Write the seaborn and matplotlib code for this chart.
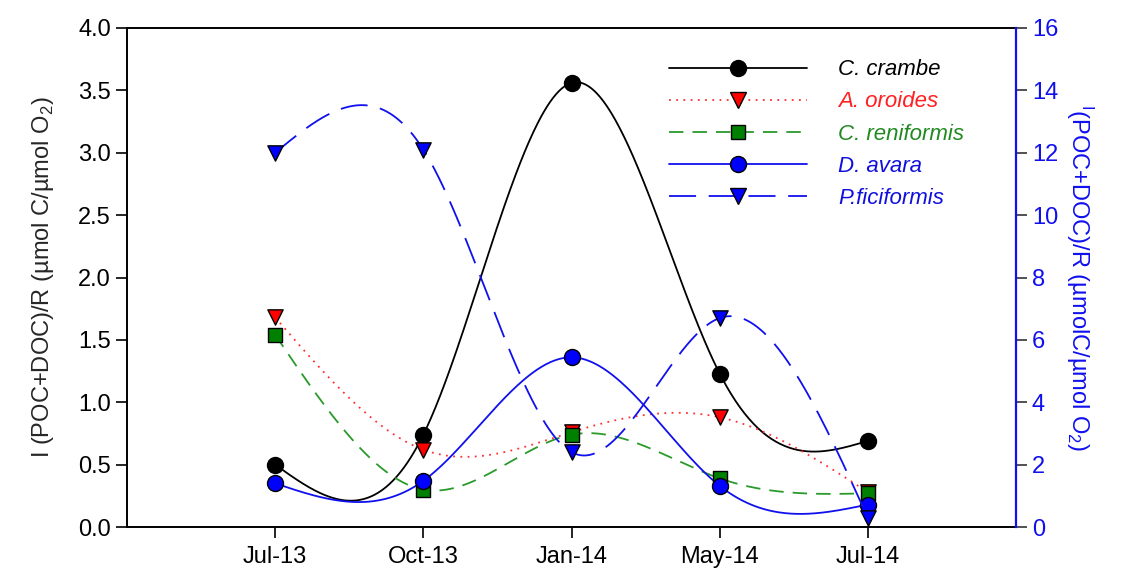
import numpy as np
import pandas as pd
import matplotlib
matplotlib.use("Agg")
import matplotlib.pyplot as plt
from matplotlib.lines import Line2D
import seaborn as sns

# ---- data ----
dates = ["Jul-13", "Oct-13", "Jan-14", "May-14", "Jul-14"]
c_crambe = [0.50, 0.74, 3.56, 1.23, 0.69]
a_oroides = [1.68, 0.62, 0.76, 0.88, 0.28]
c_reniformis = [1.54, 0.30, 0.74, 0.39, 0.27]
d_avara = [0.35, 0.37, 1.36, 0.33, 0.18]
p_ficiformis = [12.0, 12.1, 2.4, 6.7, 0.3]   # right axis

left_ticks = [0.0, 0.5, 1.0, 1.5, 2.0, 2.5, 3.0, 3.5, 4.0]
right_ticks = [0, 2, 4, 6, 8, 10, 12, 14, 16]


def natural_spline(x, y, xs):
    x = np.asarray(x, float)
    y = np.asarray(y, float)
    n = len(x)
    h = np.diff(x)
    A = np.zeros((n, n))
    b = np.zeros(n)
    A[0, 0] = 1
    A[-1, -1] = 1
    for i in range(1, n - 1):
        A[i, i - 1] = h[i - 1]
        A[i, i] = 2 * (h[i - 1] + h[i])
        A[i, i + 1] = h[i]
        b[i] = 6 * ((y[i + 1] - y[i]) / h[i] - (y[i] - y[i - 1]) / h[i - 1])
    M = np.linalg.solve(A, b)
    idx = np.clip(np.searchsorted(x, xs) - 1, 0, n - 2)
    x0, x1 = x[idx], x[idx + 1]
    hh = x1 - x0
    t0 = x1 - xs
    t1 = xs - x0
    return (M[idx] * t0 ** 3 / (6 * hh) + M[idx + 1] * t1 ** 3 / (6 * hh)
            + (y[idx] / hh - M[idx] * hh / 6) * t0
            + (y[idx + 1] / hh - M[idx + 1] * hh / 6) * t1)


sns.set_style("ticks")
plt.rcParams["font.family"] = ["Liberation Sans", "DejaVu Sans"]
plt.rcParams["mathtext.fontset"] = "custom"
plt.rcParams["mathtext.rm"] = "Liberation Sans"

fig = plt.figure(figsize=(11.28, 5.72), dpi=100)
ax = fig.add_axes([127 / 1128, 1 - 527 / 572, (1016 - 127) / 1128, (527 - 28) / 572])
ax2 = ax.twinx()

xpos = np.arange(len(dates))
xs = np.linspace(0, len(dates) - 1, 400)

BLUE = "#1010ee"
series = [
    ("C. crambe", c_crambe, ax, "black", "-", "o", "black", 11.5),
    ("A. oroides", a_oroides, ax, "#ff3030", (0, (1, 3)), "v", "red", 11),
    ("C. reniformis", c_reniformis, ax, "#2a9a2a", (0, (8, 5)), "s", "#008000", 10.5),
    ("D. avara", d_avara, ax, BLUE, "-", "o", "blue", 11.5),
    ("P.ficiformis", p_ficiformis, ax2, BLUE, (0, (15, 7)), "v", "blue", 11),
]

handles = []
for name, vals, a, lc, ls, mk, mc, ms in series:
    curve = pd.DataFrame({"x": xs, "y": natural_spline(xpos, vals, xs)})
    sns.lineplot(data=curve, x="x", y="y", ax=a, color=lc, linestyle=ls,
                 linewidth=1.3, estimator=None, sort=False, legend=False)
    pts = pd.DataFrame({"x": xpos, "y": vals})
    sns.scatterplot(data=pts, x="x", y="y", ax=a, marker=mk, color=mc,
                    s=ms ** 2, edgecolor="black", linewidth=1.0, zorder=5,
                    legend=False)
    handles.append(Line2D([], [], color=lc, linestyle=ls, linewidth=1.3,
                          marker=mk, markersize=ms, markerfacecolor=mc,
                          markeredgecolor="black", markeredgewidth=1.0))

ax.set_xlim(-1, 5)
ax.set_ylim(0, 4)
ax2.set_ylim(0, 16)
ax.set_xticks(xpos)
ax.set_xticklabels(dates)
ax.set_yticks(left_ticks)
ax.set_yticklabels([f"{v:.1f}" for v in left_ticks])
ax2.set_yticks(right_ticks)
ax2.set_yticklabels([str(v) for v in right_ticks])
ax.set_xlabel("")
ax2.set_xlabel("")

ax.tick_params(axis="both", direction="out", length=8, width=1.2,
               labelsize=17, colors="black")
ax.tick_params(axis="x", pad=6)
ax2.tick_params(axis="y", direction="out", length=8, width=1.2,
                labelsize=17, colors="#333333", labelcolor=BLUE)
for sp in ["left", "bottom", "top"]:
    ax.spines[sp].set_visible(True)
    ax.spines[sp].set_linewidth(1.4)
    ax.spines[sp].set_color("black")
for sp in ["left", "bottom", "top"]:
    ax2.spines[sp].set_visible(False)
ax2.spines["right"].set_visible(True)
ax2.spines["right"].set_color(BLUE)
ax2.spines["right"].set_linewidth(1.6)
ax.spines["right"].set_visible(False)

ax.set_ylabel(r"I (POC+DOC)/R (µmol C/µmol O$_2$)", fontsize=17, labelpad=16)
ax2.set_ylabel(r"$^{\mathregular{I}}$(POC+DOC)/R (µmolC/µmol O$_2$)",
               fontsize=17, color=BLUE, rotation=270, labelpad=26)

leg = ax2.legend(handles, [s[0] for s in series], loc="upper left",
                 bbox_to_anchor=(0.6, 0.955), frameon=False, fontsize=16,
                 handlelength=6.2, handletextpad=1.4, labelspacing=0.5,
                 borderaxespad=0)
text_colors = ["black", "#ff2020", "#208a20", "#1010dd", "#1010dd"]
for t, c in zip(leg.get_texts(), text_colors):
    t.set_color(c)
    t.set_style("italic")

fig.savefig("out.png", dpi=100)
